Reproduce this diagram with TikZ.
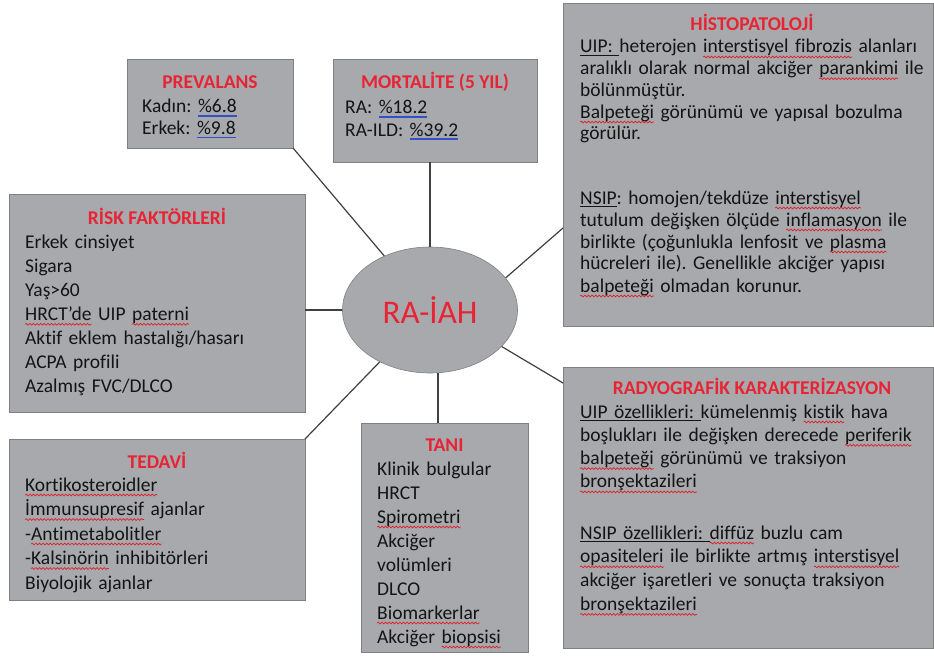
\documentclass[tikz,border=0pt]{standalone}
\usepackage{fontspec}
\setmainfont{Carlito}[Ligatures=NoCommon]
\usetikzlibrary{shapes.geometric,calc,decorations.pathmorphing}
\definecolor{boxgray}{RGB}{167,169,172}
\definecolor{boxline}{RGB}{128,128,128}
\definecolor{titlered}{RGB}{232,36,52}
\definecolor{txt}{RGB}{20,20,20}
\definecolor{ulblue}{RGB}{50,80,200}
\definecolor{wavered}{RGB}{225,30,40}
\definecolor{conn}{RGB}{64,64,64}
\frenchspacing
\newsavebox\wbox
\newlength\wlen
\newcommand\rw[1]{\sbox\wbox{#1}\setlength\wlen{\wd\wbox}\leavevmode\tikz[baseline=0pt,x=1pt,y=1pt]{\useasboundingbox (0pt,0pt); \draw[overlay, wavered, line width=0.7pt, decorate, decoration={snake, amplitude=0.9pt, segment length=3.6pt}] (0pt,-4pt) -- (\wlen,-4pt);}\usebox\wbox}
\newcommand\bu[1]{\sbox\wbox{#1}\leavevmode\rlap{\textcolor{ulblue}{\rule[-3.8pt]{\wd\wbox}{1.3pt}}}\usebox\wbox}
\newcommand\blk[1]{\sbox\wbox{#1}\leavevmode\rlap{\textcolor{txt}{\rule[-3.2pt]{\wd\wbox}{1pt}}}\usebox\wbox}
\tikzset{
  box/.style={draw=boxline, line width=0.8pt, fill=boxgray, inner sep=0pt, outer sep=0pt, anchor=north west},
  ttl/.style={text=titlered, anchor=base, inner sep=0pt, font=\fontsize{19.5}{23}\selectfont\bfseries},
  body/.style={text=txt, anchor=base west, inner sep=0pt, align=left, text width=360pt, font=\fontsize{19.5}{#1}\selectfont\frenchspacing},
  body/.default=23.5,
  link/.style={draw=conn, line width=1.2pt},
}
\begin{document}
\begin{tikzpicture}[x=1pt,y=-1pt]
\fill[white] (0,0) rectangle (934,658);
\useasboundingbox (0,0) rectangle (934,658);

% boxes
\node[box, minimum width=166pt, minimum height=89pt]  (prev)  at (127,59) {};
\node[box, minimum width=204pt, minimum height=103pt] (mort)  at (333,59) {};
\node[box, minimum width=370pt, minimum height=323pt] (histo) at (563,3) {};
\node[box, minimum width=296pt, minimum height=218pt] (risk)  at (9,194) {};
\node[box, minimum width=296pt, minimum height=161pt] (ted)   at (9,439) {};
\node[box, minimum width=167pt, minimum height=229pt] (tani)  at (361,423) {};
\node[box, minimum width=370pt, minimum height=281pt] (radyo) at (563,367) {};

\node[ellipse, draw=boxline, line width=0.6pt, fill=boxgray, minimum width=175pt, minimum height=126pt,
      inner sep=0pt, text=titlered, font=\fontsize{33}{36}\selectfont] (ell) at (430,310) {RA-İAH};

% connectors
\draw[link] (prev.south east) -- (ell);
\draw[link] (ell.north |- mort.south) -- (ell.north);
\draw[link] (ell.west -| risk.east) -- (ell.west);
\draw[link] (ted.north east) -- (ell);
\draw[link] ($(ell.south)+(8,0)$) -- ($(tani.north)+(-6.5,0)$);
\draw[link] (ell.23) -- ([yshift=98pt]histo.south west);
\draw[link] (ell.-27) -- ([yshift=-16pt]radyo.north west);

% texts
\node[ttl] (prevT) at (210,89) {PREVALANS};
\node[body=21.5] (prevB) at (142,113) {Kadın: \bu{\%6.8}\\Erkek: \bu{\%9.8}};

\node[ttl] (mortT) at (435,89) {MORTALİTE (5 YIL)};
\node[body=22] (mortB) at (345,114) {RA: \bu{\%18.2}\\RA-ILD: \bu{\%39.2}};

\node[ttl] (histoT) at (752,31) {HİSTOPATOLOJİ};
\node[body=21.7] (histoA) at (580,53) {\blk{UIP:\ }heterojen \rw{interstisyel fibrozis} alanları\\aralıklı olarak normal akciğer \rw{parankimi} ile\\bölünmüştür.\\\rw{Balpeteği} görünümü ve yapısal bozulma\\görülür.};
\node[body=22] (histoB) at (580,204) {\blk{NSIP}: homojen/tekdüze \rw{interstisyel}\\tutulum değişken ölçüde \rw{inflamasyon} ile\\birlikte (çoğunlukla lenfosit ve \rw{plasma}\\hücreleri ile). Genellikle akciğer yapısı\\\rw{balpeteği} olmadan korunur.};

\node[ttl] (riskT) at (157,224) {RİSK FAKTÖRLERİ};
\node[body=24.1] (riskB) at (25,248) {Erkek cinsiyet\\Sigara\\Yaş>60\\\rw{HRCT’de} UIP \rw{paterni}\\Aktif eklem hastalığı/hasarı\\ACPA profili\\Azalmış FVC/DLCO};

\node[ttl] (tedT) at (157,468) {TEDAVİ};
\node[body=24.5] (tedB) at (25,491) {\rw{Kortikosteroidler}\\\rw{İmmunsupresif} ajanlar\\-\rw{Antimetabolitler}\\-\rw{Kalsinörin} inhibitörleri\\Biyolojik ajanlar};

\node[ttl] (taniT) at (444.5,451) {TANI};
\node[body=24] (taniB) at (377,475) {Klinik bulgular\\HRCT\\\rw{Spirometri}\\Akciğer\\volümleri\\DLCO\\\rw{Biomarkerlar}\\Akciğer \rw{biopsisi}};

\node[ttl] (radyoT) at (752,394) {RADYOGRAFİK KARAKTERİZASYON};
\node[body=23.3] (radyoA) at (580,418) {\blk{UIP özellikleri:\ }kümelenmiş \rw{kistik} hava\\boşlukları ile değişken derecede \rw{periferik}\\\rw{balpeteği} görünümü ve traksiyon\\\rw{bronşektazileri}};
\node[body=23.8] (radyoB) at (580,539) {\blk{NSIP özellikleri:\ }\rw{diffüz} buzlu cam\\\rw{opasiteleri} ile birlikte artmış \rw{interstisyel}\\akciğer işaretleri ve sonuçta traksiyon\\\rw{bronşektazileri}};
\end{tikzpicture}
\end{document}
